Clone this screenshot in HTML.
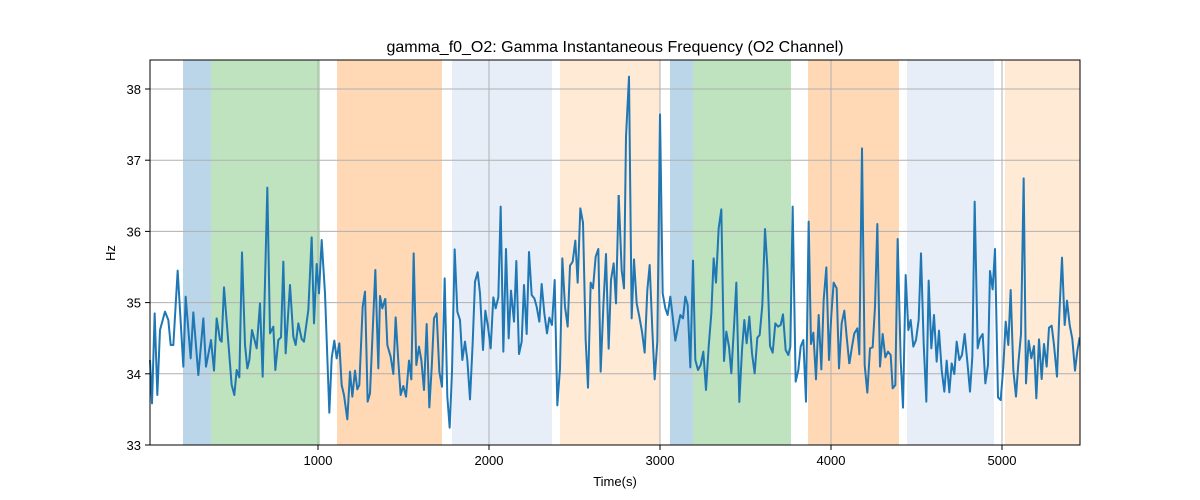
<!DOCTYPE html>
<html><head><meta charset="utf-8"><style>body{margin:0;background:#fff}svg{display:block;font-family:"Liberation Sans",sans-serif}</style></head><body>
<svg width="1200" height="500" viewBox="0 0 1200 500" xmlns="http://www.w3.org/2000/svg">
<rect width="1200" height="500" fill="#fff"/>
<g>
<rect x="183" y="60" width="28" height="385" fill="#1f77b4" fill-opacity="0.3"/>
<rect x="211" y="60" width="109" height="385" fill="#2ca02c" fill-opacity="0.3"/>
<rect x="337" y="60" width="105" height="385" fill="#ff7f0e" fill-opacity="0.3"/>
<rect x="452" y="60" width="100" height="385" fill="#aec7e8" fill-opacity="0.3"/>
<rect x="560" y="60" width="100" height="385" fill="#ffbb78" fill-opacity="0.3"/>
<rect x="670" y="60" width="23" height="385" fill="#1f77b4" fill-opacity="0.3"/>
<rect x="693" y="60" width="98" height="385" fill="#2ca02c" fill-opacity="0.3"/>
<rect x="808" y="60" width="91" height="385" fill="#ff7f0e" fill-opacity="0.3"/>
<rect x="907" y="60" width="87" height="385" fill="#aec7e8" fill-opacity="0.3"/>
<rect x="1005" y="60" width="75" height="385" fill="#ffbb78" fill-opacity="0.3"/>
</g>
<g stroke="#b0b0b0" stroke-width="1">
<line x1="150" x2="1080" y1="373.8" y2="373.8"/><line x1="150" x2="1080" y1="302.6" y2="302.6"/><line x1="150" x2="1080" y1="231.4" y2="231.4"/><line x1="150" x2="1080" y1="160.2" y2="160.2"/><line x1="150" x2="1080" y1="89" y2="89"/>
<line x1="318" x2="318" y1="60" y2="445"/><line x1="489" x2="489" y1="60" y2="445"/><line x1="660" x2="660" y1="60" y2="445"/><line x1="831" x2="831" y1="60" y2="445"/><line x1="1002" x2="1002" y1="60" y2="445"/>
</g>
<g fill="none" stroke="#1f77b4" stroke-width="2" stroke-linejoin="round">
<polyline vector-effect="non-scaling-stroke" transform="translate(150,60) scale(0.33333)" points="0,900 6,1030 14,760 22,1005 30,810 45,755 55,780 62,855 70,855 83,632 100,920 107,710 122,895 130,757 145,945 160,775 168,920 183,840 192,932 200,775 210,840 215,845 222,682 245,975 253,1005 260,930 268,952 276,577 285,855 292,925 298,900 306,810 320,865 330,730 338,950 352,383 360,820 370,800 376,930 385,840 393,832 400,605 407,880 420,675 430,830 437,855 445,790 455,837 462,845 475,750 485,532 492,790 500,612 507,700 515,540 525,700 538,1058 545,895 553,842 560,895 568,850 575,975 582,1005 592,1078 600,935 607,1010 615,932 622,988 628,975 638,740 645,695 653,1025 660,1000 676,630 685,925 690,708 697,745 706,715"/>
<polyline vector-effect="non-scaling-stroke" transform="translate(380,60) scale(0.33333)" points="16,715 22,855 32,890 40,942 47,772 55,905 62,1005 70,978 78,1010 87,902 94,958 101,580 109,915 117,860 124,900 132,990 140,792 148,1042 155,925 162,775 170,760 178,935 186,980 194,655 202,1010 209,1103 216,935 224,568 232,755 240,780 247,900 255,845 262,900 270,1018 278,850 285,665 293,637 300,700 309,870 316,752 324,800 332,865 340,712 347,745 355,712 362,440 370,875 378,567 386,835 393,692 402,785 409,603 417,882 425,845 432,675 440,822 447,576 455,705 463,715 470,740 478,785 485,672 493,760 501,820 508,773 516,795 524,660 532,1036 540,925 547,595 555,740 563,800 570,617 578,605 586,542 593,668 601,445 609,488 617,840 624,983 632,668 639,685 647,590 655,567 662,935 670,740 678,582 686,866 693,660 701,610 708,730 716,405"/>
<polyline vector-effect="non-scaling-stroke" transform="translate(610,60) scale(0.33333)" points="26,405 35,630 42,685 48,230 57,50 65,775 72,598 80,730 88,770 96,815 104,878 112,690 119,615 127,810 134,958 142,845 150,163 158,700 166,745 173,765 181,710 188,770 196,842 204,800 211,765 219,775 226,710 233,735 241,922 249,602 256,900 264,930 272,915 280,875 288,990 296,860 304,760 311,595 318,668 326,505 334,448 342,903 349,815 357,860 364,940 372,800 379,668 388,1026 396,870 403,780 410,850 418,770 426,880 434,940 442,833 449,825 457,735 465,507 472,620 480,858 488,878 496,790 504,800 512,795 519,763 527,870 535,885 541,860 548,440 557,965 565,930 572,860 580,840 588,1025 596,485 603,852 610,818 618,958 626,765 634,928 641,720 649,622 657,900 664,765 671,668 680,685 687,925 695,790 703,752 710,830 718,912"/>
<polyline vector-effect="non-scaling-stroke" transform="translate(840,60) scale(0.33333)" points="28,912 36,860 43,820 52,805 58,883 66,265 74,915 82,998 90,865 98,862 105,740 112,492 120,920 128,822 136,892 144,875 152,885 158,985 166,975 173,537 182,900 189,1043 197,645 205,810 212,780 220,860 228,840 236,780 243,580 251,850 259,1025 266,662 274,865 282,765 290,905 297,812 305,930 313,995 320,902 328,997 335,910 343,942 350,845 358,900 366,885 374,822 382,905 390,995 397,890 404,425 413,865 420,835 428,822 436,970 444,915 450,633 458,688 465,567 474,1012 482,1020 490,920 497,785 505,855 512,690 520,930 528,1010 535,910 543,822 551,355 558,970 566,842 574,895 582,858 589,1015 597,838 605,957 612,852 620,920 627,803 635,797 642,855 651,950 658,762 666,593 674,795 681,722 689,795 697,837 705,932 712,873 719,832"/>
</g>
<rect x="150" y="60" width="930" height="385" fill="none" stroke="#000" stroke-width="1"/>
<g stroke="#000" stroke-width="1">
<line x1="145" x2="150" y1="445" y2="445"/><line x1="145" x2="150" y1="373.8" y2="373.8"/><line x1="145" x2="150" y1="302.6" y2="302.6"/><line x1="145" x2="150" y1="231.4" y2="231.4"/><line x1="145" x2="150" y1="160.2" y2="160.2"/><line x1="145" x2="150" y1="89" y2="89"/>
<line x1="318" x2="318" y1="445" y2="450"/><line x1="489" x2="489" y1="445" y2="450"/><line x1="660" x2="660" y1="445" y2="450"/><line x1="831" x2="831" y1="445" y2="450"/><line x1="1002" x2="1002" y1="445" y2="450"/>
</g>
<g font-size="13" fill="#000" text-anchor="end">
<text x="141" y="450">33</text><text x="141" y="378.8">34</text><text x="141" y="307.6">35</text><text x="141" y="236.4">36</text><text x="141" y="165.2">37</text><text x="141" y="94">38</text>
</g>
<g font-size="13" fill="#000" text-anchor="middle">
<text x="318" y="465">1000</text><text x="489" y="465">2000</text><text x="660" y="465">3000</text><text x="831" y="465">4000</text><text x="1002" y="465">5000</text>
<text x="615" y="486">Time(s)</text>
<text x="115" y="253" transform="rotate(-90 115 253)">Hz</text>
<text x="615" y="52" font-size="16">gamma_f0_O2: Gamma Instantaneous Frequency (O2 Channel)</text>
</g>
</svg>
</body></html>
